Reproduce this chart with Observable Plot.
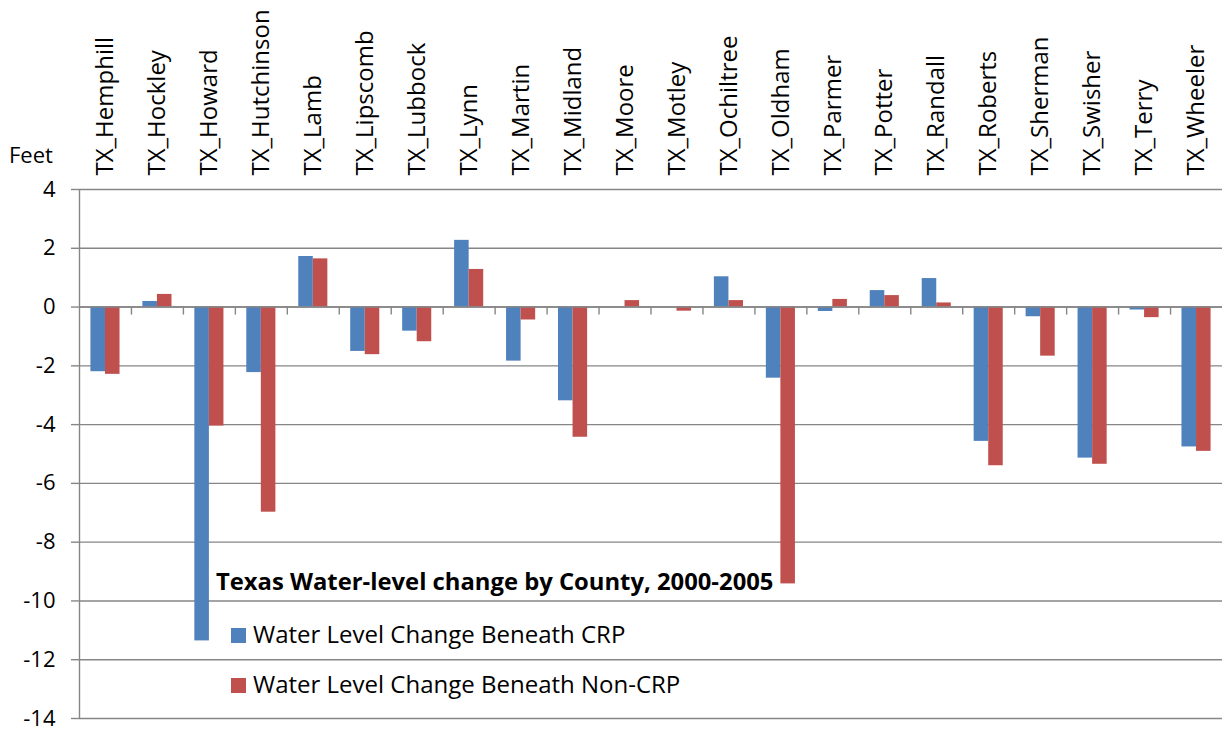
<!DOCTYPE html>
<html>
<head>
<meta charset="utf-8">
<script src="https://cdn.jsdelivr.net/npm/d3@7"></script>
<script src="https://cdn.jsdelivr.net/npm/@observablehq/plot@0.6"></script>
<style>
  body { margin: 0; background: #fff; }
  #wrap { position: relative; width: 1222px; height: 730px; font-family: "Open Sans", sans-serif; color: #000; }
  #wrap svg { position: absolute; left: 0; top: 0; }
  .ov { position: absolute; white-space: nowrap; }
  .sw { position: absolute; width: 15px; height: 15px; }
</style>
</head>
<body>
<div id="wrap"></div>
<script>
const counties = ["TX_Hemphill","TX_Hockley","TX_Howard","TX_Hutchinson","TX_Lamb","TX_Lipscomb","TX_Lubbock","TX_Lynn","TX_Martin","TX_Midland","TX_Moore","TX_Motley","TX_Ochiltree","TX_Oldham","TX_Parmer","TX_Potter","TX_Randall","TX_Roberts","TX_Sherman","TX_Swisher","TX_Terry","TX_Wheeler"];
const crp    = [-2.20, 0.19, -11.36, -2.23, 1.72, -1.51, -0.82, 2.27, -1.84, -3.19, 0.00, 0.00, 1.03, -2.42, -0.15, 0.56, 0.97, -4.57, -0.33, -5.14, -0.10, -4.76];
const noncrp = [-2.29, 0.43, -4.05, -6.98, 1.64, -1.62, -1.18, 1.28, -0.44, -4.43, 0.22, -0.14, 0.22, -9.42, 0.26, 0.39, 0.14, -5.40, -1.67, -5.35, -0.36, -4.91];
const seriesNames = ["Water Level Change Beneath CRP", "Water Level Change Beneath Non-CRP"];
const yTicks = [-14, -12, -10, -8, -6, -4, -2, 0, 2, 4];
const chartTitle = "Texas Water-level change by County, 2000-2005";
const yLabel = "Feet";

const colors = ["#4F81BD", "#C0504D"];
const W = 1222, H = 730, mT = 189, mB = 12, mL = 79, mR = 0;
const step = (W - mL - mR) / counties.length;
const outer = step * 0.22, half = step * 0.5;
const pxPerFoot = (H - mT - mB) / (yTicks[yTicks.length-1] - yTicks[0]);
const tickFeet = 8 / pxPerFoot;
const grid = "#868686";

const rowsCRP = counties.map((c, i) => ({county: c, value: crp[i]}));
const rowsNon = counties.map((c, i) => ({county: c, value: noncrp[i]}));

const chart = Plot.plot({
  width: W, height: H,
  marginTop: mT, marginBottom: mB, marginLeft: mL, marginRight: mR,
  style: {fontFamily: "'Open Sans', sans-serif", color: "#000", background: "transparent", overflow: "visible"},
  x: {type: "band", domain: counties, paddingInner: 0, paddingOuter: 0, round: false},
  y: {domain: [yTicks[0], yTicks[yTicks.length-1]]},
  marks: [
    Plot.gridY(yTicks, {stroke: grid, strokeOpacity: 1, strokeWidth: 1.4}),
    Plot.barY(rowsCRP, {x: "county", y1: 0, y2: "value", fill: colors[0], insetLeft: outer, insetRight: half}),
    Plot.barY(rowsNon, {x: "county", y1: 0, y2: "value", fill: colors[1], insetLeft: half, insetRight: outer}),
    Plot.ruleY([0], {stroke: grid, strokeWidth: 1.4}),
    Plot.ruleX(counties.slice(1), {x: d => d, y1: 0, y2: -tickFeet, dx: -half, stroke: grid, strokeWidth: 1.4}),
    Plot.ruleX([counties[0]], {x: d => d, y1: yTicks[0], y2: yTicks[yTicks.length-1], dx: -half, stroke: grid, strokeWidth: 1.4}),
    Plot.axisY(yTicks, {tickSize: 8, tickPadding: 16, tickFormat: d => String(d), fontSize: 22, stroke: grid, strokeWidth: 1.4, label: null}),
    Plot.axisX({anchor: "top", tickRotate: -90, tickSize: 0, tickPadding: 14, fontSize: 24, label: null})
  ]
});
const wrap = document.getElementById("wrap");
wrap.appendChild(chart);

function addText(txt, left, top, size, weight) {
  const d = document.createElement("div");
  d.className = "ov";
  d.textContent = txt;
  Object.assign(d.style, {left: left + "px", top: top + "px", fontSize: size + "px", lineHeight: size + "px", fontWeight: weight || 400});
  wrap.appendChild(d);
}
addText(yLabel, 9, 143, 22);
addText(chartTitle, 216, 570, 23.8, 700);
seriesNames.forEach((s, i) => {
  const sw = document.createElement("div");
  sw.className = "sw";
  Object.assign(sw.style, {left: "231px", top: (628 + i * 50) + "px", background: colors[i]});
  wrap.appendChild(sw);
  addText(s, 253, 622 + i * 50, 24);
});
</script>
</body>
</html>
